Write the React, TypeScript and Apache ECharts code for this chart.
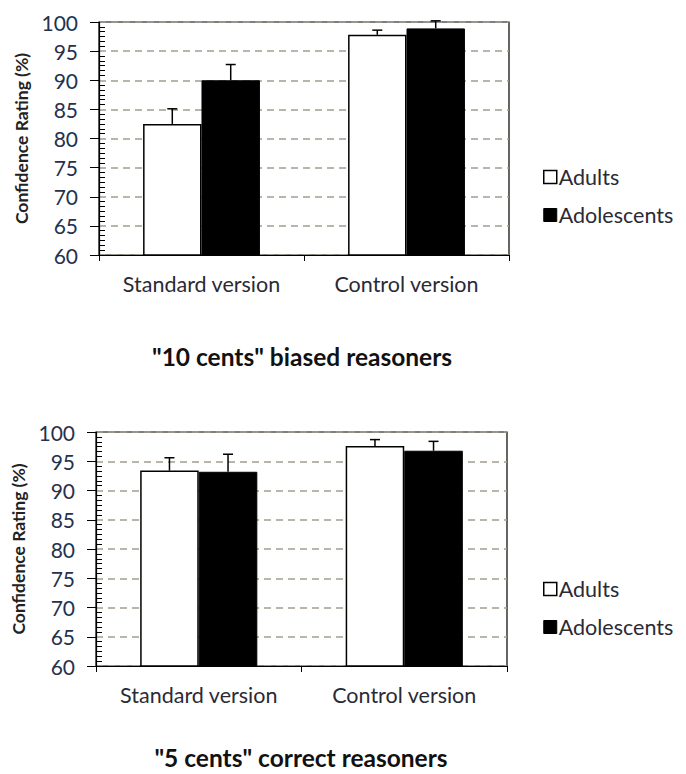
import React, { useEffect, useRef } from "react";
import * as echarts from "echarts";

const categories = ["Standard version", "Control version"];
const seriesNames = ["Adults", "Adolescents"];
const yTicks = [60, 65, 70, 75, 80, 85, 90, 95, 100];

// Top panel: "10 cents" biased reasoners
const biasedAdults = [82.5, 97.8];
const biasedAdolescents = [90.0, 98.9];
const biasedAdultsErr = [2.6, 0.8];
const biasedAdolescentsErr = [2.7, 1.3];

// Bottom panel: "5 cents" correct reasoners
const correctAdults = [93.4, 97.6];
const correctAdolescents = [93.2, 96.8];
const correctAdultsErr = [2.2, 1.1];
const correctAdolescentsErr = [3.0, 1.6];

const titles = ['"10 cents" biased reasoners', '"5 cents" correct reasoners'];

const FONT = "Lato, 'Open Sans', sans-serif";
const BAR_FRAC = 0.285;

export default function App() {
  const ref = useRef<HTMLDivElement>(null);
  useEffect(() => {
    if (!ref.current) return;
    const chart = echarts.init(ref.current, undefined, { renderer: "svg" });

    const grids = [
      { left: 99, top: 22, width: 410, height: 233 },
      { left: 96, top: 432, width: 411, height: 234 },
    ];

    const xAxes: any[] = [];
    const yAxes: any[] = [];
    const series: any[] = [];
    const panels = [
      { a: biasedAdults, b: biasedAdolescents, ea: biasedAdultsErr, eb: biasedAdolescentsErr },
      { a: correctAdults, b: correctAdolescents, ea: correctAdultsErr, eb: correctAdolescentsErr },
    ];

    panels.forEach((p, gi) => {
      xAxes.push({
        type: "category",
        gridIndex: gi,
        data: categories,
        axisLine: { lineStyle: { color: "#000", width: 1.2 } },
        axisTick: { show: true, length: 6, lineStyle: { color: "#000" } },
        axisLabel: { interval: 0, hideOverlap: false, color: "#2a2a35", fontSize: 21.5, fontFamily: FONT, margin: 18 },
      });
      yAxes.push({
        type: "value",
        gridIndex: gi,
        min: yTicks[0],
        max: yTicks[yTicks.length - 1],
        interval: 5,
        name: "Confidence Rating (%)",
        nameLocation: "middle",
        nameGap: 66,
        nameTextStyle: { fontSize: 17.5, fontWeight: "bold", color: "#222", fontFamily: FONT },
        axisLine: { show: true, lineStyle: { color: "#000", width: 1.2 } },
        axisTick: { show: true, length: 9, lineStyle: { color: "#000" } },
        axisLabel: { color: "#25314d", fontSize: 21, fontFamily: FONT, margin: 21 },
        splitLine: { show: true, lineStyle: { color: "#a39d8f", type: [7, 5], width: 1.5 } },
      });
      // overlay axis for inner minor ticks
      yAxes.push({
        type: "value",
        gridIndex: gi,
        min: yTicks[0],
        max: yTicks[yTicks.length - 1],
        interval: 5,
        position: "left",
        axisLine: { show: false },
        axisTick: { show: false, inside: true },
        axisLabel: { show: false },
        splitLine: { show: false },
        minorTick: { show: true, splitNumber: 6, length: 6, lineStyle: { color: "#000", width: 1 } },
      });
      const yIdx = gi * 2;
      series.push({
        name: seriesNames[0],
        type: "bar",
        xAxisIndex: gi,
        yAxisIndex: yIdx,
        data: p.a,
        barWidth: BAR_FRAC * 100 + "%",
        barGap: "0%",
        itemStyle: { color: "#fff", borderColor: "#000", borderWidth: 1.5 },
      });
      series.push({
        name: seriesNames[1],
        type: "bar",
        xAxisIndex: gi,
        yAxisIndex: yIdx,
        data: p.b,
        barWidth: BAR_FRAC * 100 + "%",
        barGap: "0%",
        itemStyle: { color: "#000", borderColor: "#000", borderWidth: 1 },
      });
      [
        { vals: p.a, errs: p.ea, sign: -1 },
        { vals: p.b, errs: p.eb, sign: 1 },
      ].forEach((s) => {
        series.push({
          type: "custom",
          xAxisIndex: gi,
          yAxisIndex: yIdx,
          z: 5,
          clip: false,
          data: s.vals.map((v, i) => [i, v, s.errs[i]]),
          encode: { x: 0, y: 1 },
          renderItem: (params: any, api: any) => {
            const idx = api.value(0);
            const v = api.value(1);
            const e = api.value(2);
            const band = api.size([1, 0])[0];
            const off = (s.sign * band * BAR_FRAC) / 2;
            const base = api.coord([idx, v]);
            const top = api.coord([idx, v + e]);
            const x = base[0] + off;
            return {
              type: "group",
              children: [
                { type: "line", shape: { x1: x, y1: base[1], x2: x, y2: top[1] }, style: { stroke: "#000", lineWidth: 1.5 } },
                { type: "line", shape: { x1: x - 5, y1: top[1], x2: x + 5, y2: top[1] }, style: { stroke: "#000", lineWidth: 1.5 } },
              ],
            };
          },
        });
      });
    });

    const legendData = [
      { name: seriesNames[0], itemStyle: { color: "#fff", borderColor: "#000", borderWidth: 1.5 } },
      { name: seriesNames[1], itemStyle: { color: "#000", borderColor: "#000", borderWidth: 1 } },
    ];
    const legendCommon = {
      orient: "vertical",
      left: 538,
      icon: "rect",
      itemWidth: 13,
      itemHeight: 13,
      itemGap: 16,
      selectedMode: false,
      data: legendData,
      textStyle: { fontSize: 21.5, color: "#2a2a35", fontFamily: FONT, padding: [0, 0, 0, -3] },
    };

    const titleStyle = { fontSize: 24.5, fontWeight: "bold", fill: "#111", fontFamily: FONT, align: "center", verticalAlign: "middle" };

    chart.setOption({
      animation: false,
      backgroundColor: "#fff",
      grid: grids.map((g) => ({ ...g, show: true, borderColor: "#000", borderWidth: 1.2, backgroundColor: "transparent" })),
      graphic: [
        { type: "text", x: 302, y: 356, style: { ...titleStyle, text: titles[0] } },
        { type: "text", x: 301, y: 757, style: { ...titleStyle, text: titles[1] } },
      ],
      legend: [
        { ...legendCommon, top: 161 },
        { ...legendCommon, top: 573 },
      ],
      xAxis: xAxes,
      yAxis: yAxes,
      series,
    });
    return () => chart.dispose();
  }, []);
  return <div ref={ref} style={{ position: "fixed", left: 0, top: 0, width: 686, height: 774 }} />;
}
